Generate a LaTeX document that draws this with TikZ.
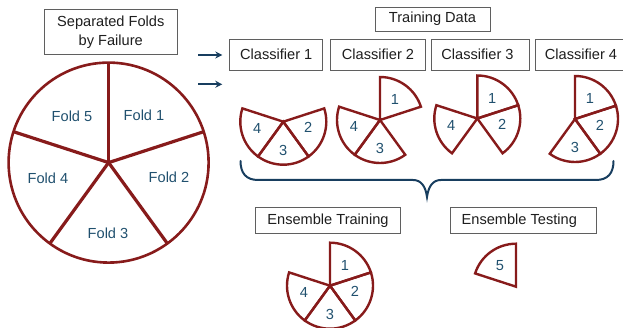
\documentclass[tikz,border=0pt]{standalone}
\usepackage{fontspec}
\setmainfont{Liberation Sans}
\usetikzlibrary{arrows.meta}
\definecolor{pie}{RGB}{135,27,27}
\definecolor{lab}{RGB}{32,80,110}
\definecolor{navy}{RGB}{24,62,95}
\definecolor{frame}{RGB}{95,95,95}
\definecolor{ink}{RGB}{30,30,30}
\begin{document}
\begin{tikzpicture}[x=1pt,y=1pt,
  box/.style={draw=frame, line width=0.9pt, fill=white, text=ink, inner sep=0pt,
    font=\fontsize{14.6}{19.3}\selectfont, align=center},
  wedge/.style={draw=pie, line width=2.4pt, line join=miter},
  rim/.style={draw=pie, line width=2.6pt},
  spoke/.style={draw=pie, line width=3.2pt},
  num/.style={text=lab, font=\fontsize{14.6}{17}\selectfont, inner sep=0pt},
  arr/.style={draw=navy, line width=2pt, -{Stealth[length=7pt,width=7pt]}},
  bracepath/.style={draw=navy, line width=2pt, line cap=round}]
\useasboundingbox (0,0) rectangle (623,328);
\clip (0,0) rectangle (623,328);

% ---------- big pie ----------
\coordinate (C) at (108.6,165.4);
\draw[rim] (C) circle[radius=100];
\foreach \a in {90,18,-54,-126,162} \draw[spoke] (C) -- ++(\a:100);
\node[num] (f1) at (144,213) {Fold 1};
\node[num] (f2) at (169,151) {Fold 2};
\node[num] (f3) at (108,95)  {Fold 3};
\node[num] (f4) at (48,150)  {Fold 4};
\node[num] (f5) at (72,212)  {Fold 5};

% ---------- boxes ----------
\node[box, minimum width=133pt, minimum height=45.7pt] (title) at (110.8,295.9) {Separated Folds\\by Failure};
\node[box, minimum width=115pt, minimum height=23.7pt] (train) at (432.5,308.8) {Training Data};
\node[box, minimum width=93pt,  minimum height=31pt] (c1) at (276.2,273.5) {Classifier 1};
\node[box, minimum width=94.6pt,minimum height=31pt] (c2) at (378,273.5) {Classifier 2};
\node[box, minimum width=97.3pt,minimum height=31pt] (c3) at (480.3,273.5) {Classifier 3\hspace{5.6pt}};
\node[box, minimum width=92pt,  minimum height=31pt] (c4) at (581,273.5) {Classifier 4};
\node[box, minimum width=144.6pt,minimum height=26pt] (et) at (328,107.7) {Ensemble Training};
\node[box, minimum width=146.7pt,minimum height=26pt] (es) at (523.3,107.7) {Ensemble Testing\hspace{8pt}};

% ---------- arrows ----------
\coordinate (a1s) at (198.3,273);
\coordinate (a1e) at (222.3,273);
\coordinate (a2s) at (198.3,243.7);
\coordinate (a2e) at (222.3,243.7);
\draw[arr] (a1s) -- (a1e);
\draw[arr] (a2s) -- (a2e);

% ---------- small pies ----------
\coordinate (p1) at (283.3,206.3);
\coordinate (p2) at (380,208);
\coordinate (p3) at (477.3,209.5);
\coordinate (p4) at (575,209);
\coordinate (pe) at (330,42.3);
\coordinate (pt) at (516,41.3);

% wedge angles: 1: 18..90, 2: -54..18, 3: -126..-54, 4: 162..234, 5: 90..162
\foreach \c/\s/\e in {p1/-54/18, p1/-126/-54, p1/162/234,
                      p2/18/90,  p2/-126/-54, p2/162/234,
                      p3/18/90,  p3/-54/18,   p3/162/234,
                      p4/18/90,  p4/-54/18,   p4/-126/-54,
                      pe/18/90,  pe/-54/18,   pe/-126/-54, pe/162/234,
                      pt/90/162}
  \draw[wedge] (\c) -- ++(\s:43) arc[start angle=\s, end angle=\e, radius=43] -- cycle;

\foreach \c/\n in {p1/2,p1/3,p1/4, p2/1,p2/3,p2/4, p3/1,p3/2,p3/4, p4/1,p4/2,p4/3, pe/1,pe/2,pe/3,pe/4, pt/5}{
  \ifcase\n\or
    \node[num] (\c l\n) at ([shift={(15,20.5)}]\c) {1};\or
    \node[num] (\c l\n) at ([shift={(25,-6)}]\c) {2};\or
    \node[num] (\c l\n) at ([shift={(0,-28.5)}]\c) {3};\or
    \node[num] (\c l\n) at ([shift={(-26,-6.5)}]\c) {4};\or
    \node[num] (\c l\n) at ([shift={(-16,21)}]\c) {5};\fi
}

% ---------- brace ----------
\coordinate (bl) at (240.5,167);
\coordinate (bt) at (427,131);
\coordinate (br) at (613.5,167);
\draw[bracepath] (bl) .. controls (240.5,155) and (246,148) .. (258,148)
  -- (413,148) .. controls (421,148) and (425.5,142) .. (bt)
  .. controls (428.5,142) and (433,148) .. (441,148)
  -- (596,148) .. controls (608,148) and (613.5,155) .. (br);
\end{tikzpicture}
\end{document}
